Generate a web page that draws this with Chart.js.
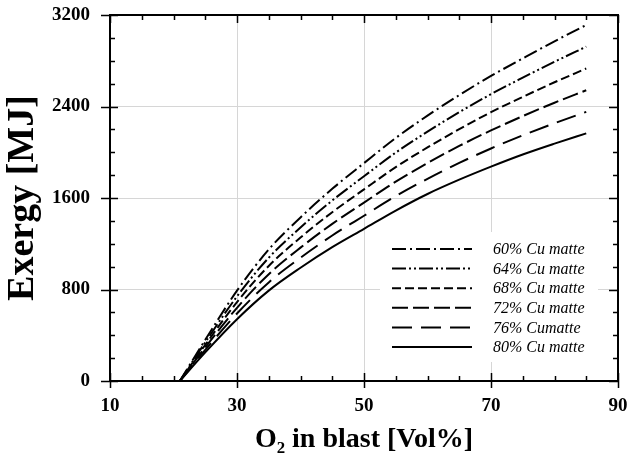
<!DOCTYPE html>
<html>
<head>
<meta charset="utf-8">
<script src="https://cdn.jsdelivr.net/npm/chart.js@4.4.1/dist/chart.umd.min.js"></script>
<style>
  html, body { margin: 0; padding: 0; background: #fff; }
  #wrap { width: 627px; height: 460px; }
</style>
</head>
<body>
<div id="wrap"><canvas id="chart" width="627" height="460"></canvas></div>
<script>
// O2 in blast [Vol%]
const o2 = [21, 25, 30, 35, 40, 45, 50, 55, 60, 65, 70, 75, 80, 85];

// Exergy [MJ] per Cu matte grade
const cu60 = [0, 360, 790, 1150, 1430, 1680, 1905, 2125, 2320, 2500, 2667, 2820, 2970, 3113];
const cu64 = [0, 338, 740, 1078, 1342, 1578, 1790, 1997, 2180, 2350, 2508, 2652, 2791, 2923];
const cu68 = [0, 316, 690, 1006, 1254, 1476, 1675, 1870, 2042, 2202, 2350, 2484, 2612, 2732];
const cu72 = [0, 294, 640, 934, 1166, 1374, 1560, 1743, 1905, 2055, 2191, 2316, 2433, 2542];
const cu76 = [0, 272, 590, 862, 1078, 1272, 1445, 1616, 1768, 1907, 2033, 2148, 2254, 2353];
const cu80 = [0, 250, 540, 790, 990, 1170, 1330, 1490, 1635, 1760, 1874, 1980, 2075, 2165];

const seriesLabels = ['60% Cu matte', '64% Cu matte', '68% Cu matte', '72% Cu matte', '76% Cumatte', '80% Cu matte'];
const xTicks = [10, 30, 50, 70, 90];
const yTicks = [0, 800, 1600, 2400, 3200];

const dashStyles = [
  [14, 4, 2, 4],
  [14, 3, 2, 3, 2, 3],
  [9, 4],
  [16, 5],
  [20, 9],
  [],
];

const serif = "'Liberation Serif', 'Times New Roman', serif";

const toPoints = ys => ys.map((y, i) => ({ x: o2[i], y }));

const datasets = [cu60, cu64, cu68, cu72, cu76, cu80].map((ys, i) => ({
  label: seriesLabels[i],
  data: toPoints(ys),
  borderColor: '#000',
  borderWidth: 2,
  borderDash: dashStyles[i],
  pointRadius: 0,
  fill: false,
  cubicInterpolationMode: 'monotone',
}));

// box frame + inward ticks
const framePlugin = {
  id: 'frame',
  afterDraw(chart) {
    const { ctx, chartArea: a, scales } = chart;
    const xs = scales.x;
    const ys = scales.y;
    ctx.save();
    ctx.strokeStyle = '#000';
    ctx.lineWidth = 1.5;
    xs.ticks.forEach(t => {
      const px = Math.round(xs.getPixelForValue(t.value)) + 0.5;
      const major = xTicks.includes(t.value);
      ctx.beginPath();
      ctx.moveTo(px, a.bottom + (major ? 7 : 0));
      ctx.lineTo(px, a.bottom - (major ? 8 : 5));
      ctx.moveTo(px, a.top);
      ctx.lineTo(px, a.top + (major ? 8 : 5));
      ctx.stroke();
    });
    ys.ticks.forEach(t => {
      const py = Math.round(ys.getPixelForValue(t.value)) + 0.5;
      const major = yTicks.includes(t.value);
      ctx.beginPath();
      ctx.moveTo(a.left - (major ? 9 : 0), py);
      ctx.lineTo(a.left + (major ? 8 : 5), py);
      ctx.moveTo(a.right, py);
      ctx.lineTo(a.right - (major ? 9 : 5), py);
      ctx.stroke();
    });
    ctx.lineWidth = 2;
    ctx.strokeRect(a.left, a.top, a.right - a.left, a.bottom - a.top);
    ctx.restore();
  },
};

// legend drawn inside plot, with dash samples
const legendPlugin = {
  id: 'boxLegend',
  afterDraw(chart) {
    const { ctx, chartArea: a } = chart;
    const left = a.right - 238;
    const top = a.bottom - 149;
    ctx.save();
    ctx.fillStyle = '#fff';
    ctx.fillRect(left, top, 218, 130);
    ctx.font = `italic 16px ${serif}`;
    ctx.textBaseline = 'middle';
    ctx.fillStyle = '#000';
    chart.data.datasets.forEach((ds, i) => {
      const y = top + 17 + i * 19.6;
      ctx.strokeStyle = '#000';
      ctx.lineWidth = 2;
      ctx.setLineDash(ds.borderDash);
      ctx.beginPath();
      ctx.moveTo(left + 12, y);
      ctx.lineTo(left + 92, y);
      ctx.stroke();
      ctx.setLineDash([]);
      ctx.fillText(ds.label, left + 113, y + 1);
    });
    ctx.restore();
  },
};

const gridColor = major => (major ? '#d6d6d6' : 'rgba(0,0,0,0)');

const noEdgePadding = scale => {
  scale.paddingTop = 0;
  scale.paddingBottom = 0;
  scale.paddingLeft = 0;
  scale.paddingRight = 0;
};

new Chart(document.getElementById('chart'), {
  type: 'line',
  data: { datasets },
  plugins: [framePlugin, legendPlugin],
  options: {
    responsive: false,
    devicePixelRatio: 1,
    animation: false,
    layout: { padding: { left: 0, right: 9, top: 15, bottom: 0 } },
    plugins: {
      legend: { display: false },
      tooltip: { enabled: false },
    },
    scales: {
      x: {
        type: 'linear',
        min: 10,
        max: 90,
        afterFit: scale => { scale.height = 79; noEdgePadding(scale); },
        grid: {
          drawTicks: false,
          color: ctx => gridColor(xTicks.includes(ctx.tick.value) && ctx.tick.value !== 10 && ctx.tick.value !== 90),
        },
        border: { display: false },
        ticks: {
          stepSize: 5,
          autoSkip: false,
          maxRotation: 0,
          padding: 14,
          color: '#000',
          font: { family: serif, size: 19, weight: 'bold' },
          callback: v => (xTicks.includes(v) ? v : ''),
        },
        title: {
          display: true,
          text: 'O₂ in blast [Vol%]',
          color: '#000',
          font: { family: serif, size: 28, weight: 'bold' },
          padding: { top: 0, bottom: 3 },
        },
      },
      y: {
        type: 'linear',
        min: 0,
        max: 3200,
        afterFit: scale => { scale.width = 110; noEdgePadding(scale); },
        grid: {
          drawTicks: false,
          color: ctx => gridColor(yTicks.includes(ctx.tick.value) && ctx.tick.value !== 0 && ctx.tick.value !== 3200),
        },
        border: { display: false },
        ticks: {
          stepSize: 200,
          autoSkip: false,
          padding: 20,
          color: '#000',
          font: { family: serif, size: 19, weight: 'bold' },
          callback: v => (yTicks.includes(v) ? v : ''),
        },
        title: {
          display: true,
          text: 'Exergy [MJ]',
          color: '#000',
          font: { family: serif, size: 38, weight: 'bold' },
          padding: { top: 0, bottom: 0 },
        },
      },
    },
  },
});
</script>
</body>
</html>
